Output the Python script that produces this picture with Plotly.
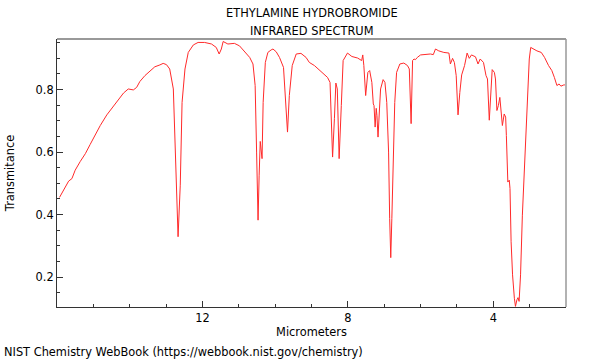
import plotly.graph_objects as go

title_line1 = "ETHYLAMINE HYDROBROMIDE"
title_line2 = "INFRARED SPECTRUM"
x_title = "Micrometers"
y_title = "Transmitance"
footer = "NIST Chemistry WebBook (https://webbook.nist.gov/chemistry)"

x_tick_values = [12, 8, 4]
y_tick_values = [0.2, 0.4, 0.6, 0.8]

wavelength_um = [
    15.93, 15.82, 15.68, 15.59, 15.50, 15.36, 15.22, 15.09, 14.95, 14.81,
    14.63, 14.45, 14.31, 14.17, 14.04, 13.90, 13.81, 13.72, 13.58, 13.44,
    13.31, 13.17, 13.08, 12.99, 12.90, 12.80, 12.74, 12.67, 12.61, 12.56,
    12.48, 12.39, 12.25, 12.12, 11.94, 11.75, 11.62, 11.54, 11.48, 11.43,
    11.30, 11.12, 10.98, 10.84, 10.70, 10.61, 10.55, 10.51, 10.47, 10.44,
    10.41, 10.36, 10.33, 10.27, 10.20, 10.11, 10.06, 9.97, 9.88, 9.77,
    9.72, 9.66, 9.61, 9.53, 9.42, 9.29, 9.15, 9.06, 8.92, 8.79,
    8.65, 8.56, 8.49, 8.46, 8.42, 8.37, 8.33, 8.29, 8.24, 8.18,
    8.13, 8.01, 7.89, 7.73, 7.62, 7.59, 7.56, 7.51, 7.45, 7.40,
    7.34, 7.30, 7.28, 7.25, 7.22, 7.20, 7.17, 7.13, 7.10, 7.03,
    6.98, 6.93, 6.88, 6.85, 6.82, 6.79, 6.75, 6.71, 6.66, 6.57,
    6.46, 6.36, 6.31, 6.28, 6.26, 6.22, 6.18, 6.14, 6.09, 6.00,
    5.86, 5.73, 5.65, 5.59, 5.50, 5.36, 5.22, 5.18, 5.12, 5.07,
    5.02, 4.97, 4.92, 4.87, 4.79, 4.72, 4.66, 4.60, 4.49, 4.42,
    4.36, 4.27, 4.20, 4.16, 4.11, 4.06, 4.03, 3.97, 3.94, 3.90,
    3.86, 3.82, 3.79, 3.75, 3.70, 3.66, 3.64, 3.60, 3.56, 3.54,
    3.51, 3.47, 3.42, 3.39, 3.35, 3.32, 3.29, 3.25, 3.20, 3.14,
    3.11, 3.06, 3.01, 2.97, 2.90, 2.80, 2.68, 2.59, 2.48, 2.39,
    2.32, 2.25, 2.19, 2.14, 2.06, 2.03,
]

transmittance = [
    0.455, 0.476, 0.507, 0.515, 0.542, 0.570, 0.595, 0.624, 0.655, 0.685,
    0.719, 0.747, 0.768, 0.789, 0.802, 0.799, 0.807, 0.826, 0.845, 0.861,
    0.873, 0.879, 0.884, 0.880, 0.866, 0.802, 0.600, 0.329, 0.494, 0.759,
    0.866, 0.919, 0.943, 0.951, 0.951, 0.946, 0.935, 0.914, 0.930, 0.954,
    0.946, 0.948, 0.940, 0.921, 0.903, 0.882, 0.813, 0.600, 0.382, 0.526,
    0.634, 0.579, 0.759, 0.887, 0.919, 0.927, 0.930, 0.921, 0.903, 0.871,
    0.791, 0.664, 0.781, 0.877, 0.914, 0.916, 0.903, 0.887, 0.877, 0.864,
    0.847, 0.839, 0.823, 0.707, 0.584, 0.707, 0.821, 0.802, 0.579, 0.749,
    0.893, 0.917, 0.906, 0.901, 0.893, 0.911, 0.877, 0.781, 0.855, 0.861,
    0.823, 0.754, 0.749, 0.680, 0.740, 0.717, 0.648, 0.738, 0.802, 0.832,
    0.823, 0.759, 0.600, 0.388, 0.262, 0.388, 0.600, 0.759, 0.855, 0.882,
    0.885, 0.877, 0.866, 0.781, 0.691, 0.893, 0.898, 0.896, 0.903, 0.911,
    0.912, 0.914, 0.912, 0.930, 0.924, 0.919, 0.917, 0.882, 0.900, 0.887,
    0.845, 0.719, 0.791, 0.847, 0.877, 0.917, 0.900, 0.911, 0.905, 0.882,
    0.898, 0.887, 0.845, 0.834, 0.702, 0.823, 0.864, 0.855, 0.834, 0.733,
    0.749, 0.775, 0.728, 0.685, 0.722, 0.712, 0.653, 0.504, 0.510, 0.483,
    0.313, 0.207, 0.132, 0.106, 0.127, 0.134, 0.122, 0.207, 0.398, 0.568,
    0.653, 0.791, 0.898, 0.935, 0.930, 0.924, 0.919, 0.903, 0.877, 0.861,
    0.839, 0.813, 0.818, 0.811, 0.815, 0.815,
]

x_range = [16.0, 2.0]
y_range = [0.104, 0.962]

FONT = "DejaVu Sans"
FS = 11.4

fig = go.Figure()
fig.add_trace(go.Scatter(
    x=wavelength_um, y=transmittance, mode="lines",
    line=dict(color="#ff2a2a", width=1), hoverinfo="skip", showlegend=False,
))

axis_common = dict(
    showgrid=False, zeroline=False, showline=True, linecolor="#333333",
    linewidth=1, ticks="inside", ticklen=6, tickcolor="#333333", tickwidth=1,
    tickfont=dict(family=FONT, size=FS, color="#000000"), automargin=False,
)

fig.update_xaxes(
    range=x_range, tickmode="array", tickvals=x_tick_values,
    ticktext=[str(v) for v in x_tick_values],
    minor=dict(ticks="inside", ticklen=3, dtick=1, tick0=0, tickcolor="#333333", showgrid=False),
    title=dict(text=x_title, font=dict(family=FONT, size=FS, color="#000000"), standoff=0),
    **axis_common,
)
fig.update_yaxes(
    range=y_range, tickmode="array", tickvals=y_tick_values,
    ticktext=[f"{v:.1f}" for v in y_tick_values],
    minor=dict(ticks="inside", ticklen=3, dtick=0.05, tick0=0, tickcolor="#333333", showgrid=False),
    title=dict(text=y_title, font=dict(family=FONT, size=FS, color="#000000"), standoff=18),
    **axis_common,
)

fig.add_shape(type="line", xref="paper", yref="paper", x0=0, x1=1, y0=1, y1=1,
              line=dict(color="#999999", width=2))
fig.add_shape(type="line", xref="paper", yref="paper", x0=1, x1=1, y0=0, y1=1,
              line=dict(color="#999999", width=1.5))

fig.add_annotation(text=title_line1, xref="paper", yref="paper", x=0.5, y=1,
                   yshift=26, yanchor="middle", showarrow=False,
                   font=dict(family=FONT, size=FS, color="#000000"))
fig.add_annotation(text=title_line2, xref="paper", yref="paper", x=0.5, y=1,
                   yshift=8, yanchor="middle", showarrow=False,
                   font=dict(family=FONT, size=FS, color="#000000"))
fig.add_annotation(text=footer, xref="paper", yref="paper", x=0, y=0,
                   xshift=-55, yshift=-45, xanchor="left", yanchor="middle",
                   showarrow=False, font=dict(family=FONT, size=FS, color="#000000"))

fig.update_layout(
    width=600, height=360,
    margin=dict(l=57, r=34, t=39, b=53),
    paper_bgcolor="white", plot_bgcolor="white",
    font=dict(family=FONT, size=FS, color="#000000"),
)

fig.write_html(
    "out.html",
    config={"displayModeBar": False, "staticPlot": True},
    post_script="document.body.style.margin='0';document.body.style.overflow='hidden';",
)
